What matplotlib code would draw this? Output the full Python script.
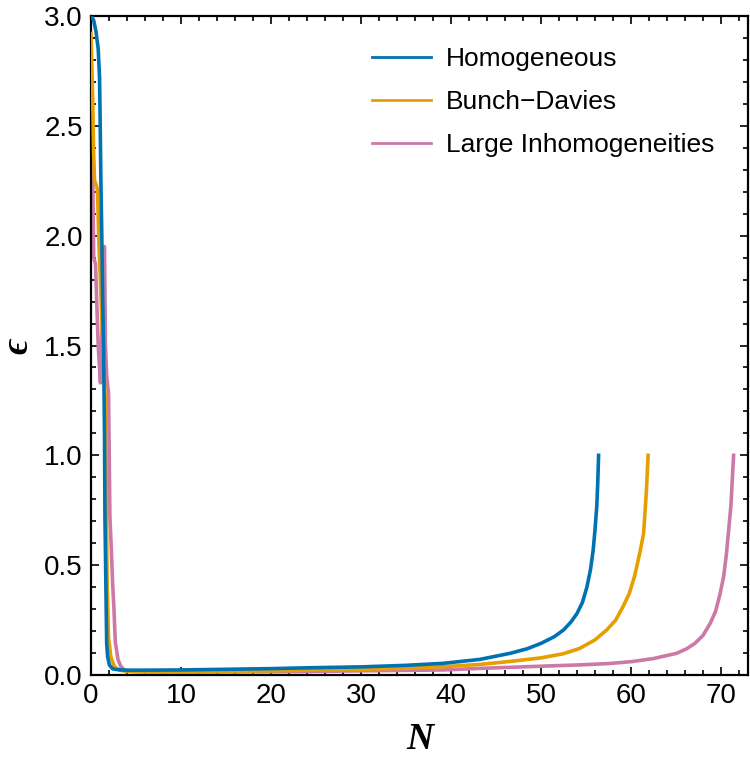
import matplotlib
matplotlib.use("Agg")
import matplotlib.pyplot as plt
from matplotlib.ticker import MultipleLocator, FormatStrFormatter

# ---- data ----
labels = ["Homogeneous", "Bunch\u2212Davies", "Large Inhomogeneities"]
colors = ["#0072B2", "#E69F00", "#CC79A7"]

N_hom = [0.0, 0.3, 0.55, 0.8, 0.95, 1.0, 1.1, 1.2, 1.3, 1.4, 1.5, 1.55, 1.65, 1.74, 1.85,
         2.04, 2.4, 2.85, 3.4, 4.0, 6.0, 10.0, 15.0, 20.0, 24.3, 30.0, 35.0, 39.1, 43.2,
         46.6, 48.5, 50.0, 51.5, 52.5, 53.3, 54.0, 54.6, 55.1, 55.5, 55.8, 56.0, 56.2, 56.3, 56.4]
e_hom = [3.0, 2.98, 2.93, 2.85, 2.72, 2.57, 2.25, 2.0, 1.7, 1.48, 1.1, 0.72, 0.42, 0.145, 0.083,
         0.046, 0.028, 0.025, 0.023, 0.022, 0.022, 0.023, 0.026, 0.029, 0.033, 0.037, 0.044, 0.053, 0.071,
         0.099, 0.12, 0.144, 0.175, 0.205, 0.24, 0.28, 0.33, 0.40, 0.48, 0.57, 0.66, 0.77, 0.87, 1.0]

N_bd = [0.0, 0.2, 0.28, 0.39, 0.5, 0.72, 0.85, 1.0, 1.2, 1.4, 1.6, 1.67, 1.72, 1.8, 1.95,
        2.2, 2.6, 3.1, 4.0, 6.0, 10.0, 15.0, 20.0, 24.3, 30.0, 35.0, 39.1, 43.2, 46.6, 50.0,
        52.5, 54.3, 56.0, 57.3, 58.3, 59.1, 59.8, 60.4, 61.0, 61.4, 61.7, 61.9]
e_bd = [2.92, 2.6, 2.39, 2.25, 2.24, 2.21, 2.0, 1.84, 1.62, 1.42, 1.25, 1.0, 0.71, 0.4, 0.17,
        0.083, 0.038, 0.023, 0.016, 0.015, 0.015, 0.017, 0.019, 0.022, 0.026, 0.031, 0.038, 0.048, 0.062, 0.078,
        0.097, 0.121, 0.16, 0.205, 0.25, 0.31, 0.37, 0.45, 0.56, 0.645, 0.83, 1.0]

N_li = [0.0, 0.1, 0.2, 0.3, 0.5, 0.8, 1.05, 1.5, 1.6, 1.75, 1.95, 2.1, 2.25, 2.4, 2.55,
        2.7, 3.0, 3.33, 3.7, 4.5, 6.0, 10.0, 15.0, 20.0, 24.3, 30.0, 35.0, 39.1, 43.2, 46.6,
        50.0, 54.3, 57.5, 60.1, 62.5, 65.1, 66.2, 67.1, 68.0, 68.8, 69.4, 69.9, 70.3, 70.6, 71.1, 71.4]
e_li = [2.5, 2.48, 2.25, 1.9, 1.87, 1.5, 1.33, 1.95, 1.5, 1.36, 1.28, 0.72, 0.58, 0.42, 0.3,
        0.15, 0.07, 0.038, 0.023, 0.016, 0.014, 0.013, 0.014, 0.015, 0.016, 0.019, 0.021, 0.023, 0.030, 0.035,
        0.040, 0.046, 0.052, 0.061, 0.075, 0.099, 0.12, 0.144, 0.18, 0.235, 0.29, 0.37, 0.45, 0.55, 0.77, 1.0]

x_ticks = [0, 10, 20, 30, 40, 50, 60, 70]
y_ticks = [0.0, 0.5, 1.0, 1.5, 2.0, 2.5, 3.0]

# ---- figure ----
plt.rcParams['font.family'] = ['Liberation Sans', 'DejaVu Sans']
fig = plt.figure(figsize=(7.5, 7.59), dpi=100)
ax = fig.add_axes([91/750, 1-675/759, (748-91)/750, (675-16)/759])

series = [(N_hom, e_hom), (N_bd, e_bd), (N_li, e_li)]
zorders = [4, 3, 2]
for (xs, ys), lab, c, z in zip(series, labels, colors, zorders):
    ax.plot(xs, ys, color=c, lw=2.6, label=lab, zorder=z, solid_joinstyle='round')

ax.set_xlim(0, 73)
ax.set_ylim(0, 3.0)
ax.set_xticks(x_ticks)
ax.set_yticks(y_ticks)
ax.yaxis.set_major_formatter(FormatStrFormatter('%.1f'))
ax.xaxis.set_minor_locator(MultipleLocator(2))
ax.yaxis.set_minor_locator(MultipleLocator(0.1))
ax.tick_params(which='both', direction='in', top=True, right=True, width=1.2, colors='black')
ax.tick_params(which='major', length=6, labelsize=20, pad=6)
ax.tick_params(which='minor', length=3.5)
for s in ax.spines.values():
    s.set_linewidth(1.6)

ax.set_xlabel('N', family=['Liberation Serif', 'DejaVu Serif'], fontsize=27,
              fontweight='bold', fontstyle='italic', labelpad=9)
ax.set_ylabel('\u03f5', family=['Liberation Serif', 'DejaVu Serif'], fontsize=27,
              fontweight='bold', fontstyle='italic', labelpad=6)

leg = ax.legend(loc='upper left', bbox_to_anchor=(372/750, 1-47/759),
                bbox_transform=fig.transFigure, frameon=False, fontsize=19,
                handlelength=2.25, handletextpad=0.55, labelspacing=0.72,
                borderpad=0, borderaxespad=0)
for h in leg.get_lines():
    h.set_linewidth(2)

fig.savefig('out.png', dpi=100)
